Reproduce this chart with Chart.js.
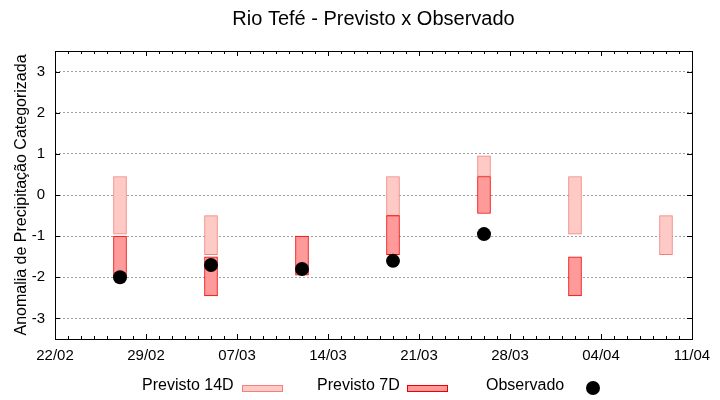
<!DOCTYPE html>
<html>
<head>
<meta charset="utf-8">
<style>
  html, body { margin: 0; padding: 0; background: #fff; }
  #wrap { width: 720px; height: 400px; }
</style>
</head>
<body>
<div id="wrap"><canvas id="grafico"></canvas></div>
<script src="https://cdn.jsdelivr.net/npm/chart.js"></script>
<script>
// datas semanais das previsões (2024)
const semanas = ['27/02', '05/03', '12/03', '19/03', '26/03', '02/04', '09/04'];
// faixas previstas [mínimo, máximo]
const previsto14 = [[-0.95, 0.45], [-1.45, -0.5], null, [-0.5, 0.45], [0.45, 0.95], [-0.95, 0.45], [-1.45, -0.5]];
const previsto7  = [[-1.95, -1.0], [-2.45, -1.5], [-1.95, -1.0], [-1.45, -0.5], [-0.45, 0.45], [-2.45, -1.5], null];
const observado  = [-2.0, -1.7, -1.8, -1.6, -0.95, null, null];
// rótulos dos eixos
const xRotulos = ['22/02', '29/02', '07/03', '14/03', '21/03', '28/03', '04/04', '11/04'];
const yRotulos = [-3, -2, -1, 0, 1, 2, 3];

// dias desde 22/02
const dia = s => {
  const [d, m] = s.split('/').map(Number);
  return (Date.UTC(2024, m - 1, d) - Date.UTC(2024, 1, 22)) / 864e5;
};
const xTicks = xRotulos.map(dia);
const xMax = xTicks[xTicks.length - 1];

const pontos = arr => semanas
  .map((s, i) => ({ x: dia(s), y: arr[i] }))
  .filter(p => p.y !== null);

// moldura e marcas internas, estilo gnuplot
const moldura = {
  id: 'moldura',
  afterDraw(chart) {
    const { ctx, chartArea: a, scales: { x, y } } = chart;
    ctx.save();
    ctx.strokeStyle = '#000';
    ctx.lineWidth = 1;
    ctx.beginPath();
    for (let d = 0; d <= xMax; d++) {
      const px = Math.round(x.getPixelForValue(d)) + 0.5;
      const len = xTicks.includes(d) ? 5 : 3;
      ctx.moveTo(px, a.bottom); ctx.lineTo(px, a.bottom - len);
      ctx.moveTo(px, a.top); ctx.lineTo(px, a.top + len);
    }
    yRotulos.forEach(v => {
      const py = Math.round(y.getPixelForValue(v)) + 0.5;
      ctx.moveTo(a.left, py); ctx.lineTo(a.left + 5, py);
      ctx.moveTo(a.right, py); ctx.lineTo(a.right - 5, py);
    });
    ctx.stroke();
    ctx.strokeRect(Math.round(a.left) + 0.5, Math.round(a.top) + 0.5,
      Math.round(a.right - a.left), Math.round(a.bottom - a.top));
    ctx.restore();
  }
};

// legenda: texto seguido da amostra
const legenda = {
  id: 'legenda',
  afterDraw(chart) {
    const { ctx } = chart;
    const ds = chart.data.datasets;
    const yc = 386;
    ctx.save();
    ctx.font = '16px "Liberation Sans", Arial, sans-serif';
    ctx.fillStyle = '#000';
    ctx.textBaseline = 'middle';
    ctx.fillText(ds[0].label, 142, yc);
    ctx.fillText(ds[1].label, 317, yc);
    ctx.fillText(ds[2].label, 486, yc);
    [[ds[0], 242], [ds[1], 407]].forEach(([d, x0]) => {
      ctx.fillStyle = d.backgroundColor;
      ctx.fillRect(x0, 385, 40, 6);
      ctx.strokeStyle = d.borderColor;
      ctx.lineWidth = 1;
      ctx.strokeRect(x0 + 0.5, 385.5, 40, 6);
    });
    ctx.fillStyle = ds[2].backgroundColor;
    ctx.beginPath();
    ctx.arc(593, 388, 7, 0, Math.PI * 2);
    ctx.fill();
    ctx.restore();
  }
};

Chart.defaults.font.family = '"Liberation Sans", Arial, sans-serif';
Chart.defaults.color = '#000';

new Chart(document.getElementById('grafico'), {
  type: 'bar',
  data: {
    datasets: [
      {
        label: 'Previsto 14D',
        data: pontos(previsto14),
        backgroundColor: '#fdcac6',
        borderColor: '#f4807a',
        borderWidth: 1,
        borderSkipped: false,
        barThickness: 13,
        grouped: false,
        order: 3
      },
      {
        label: 'Previsto 7D',
        data: pontos(previsto7),
        backgroundColor: '#ff9a9a',
        borderColor: '#ee0000',
        borderWidth: 1,
        borderSkipped: false,
        barThickness: 13,
        grouped: false,
        order: 2
      },
      {
        type: 'line',
        label: 'Observado',
        data: pontos(observado),
        showLine: false,
        backgroundColor: '#000',
        borderColor: '#000',
        pointRadius: 7,
        pointBorderWidth: 0,
        order: 1
      }
    ]
  },
  options: {
    responsive: true,
    maintainAspectRatio: false,
    animation: false,
    layout: { padding: { top: 0, left: 0, right: 28, bottom: 0 } },
    plugins: {
      legend: { display: false },
      tooltip: { enabled: false },
      title: {
        display: true,
        fullSize: false,
        text: 'Rio Tefé - Previsto x Observado',
        font: { size: 20, weight: 'normal' },
        color: '#000',
        padding: { top: 7, bottom: 20 }
      }
    },
    scales: {
      x: {
        type: 'linear',
        offset: false,
        min: 0,
        max: xMax,
        afterBuildTicks: s => { s.ticks = xTicks.map(v => ({ value: v })); },
        afterFit: s => { s.height = 61; },
        ticks: {
          font: { size: 15 },
          padding: 8,
          maxRotation: 0,
          callback: (v) => xRotulos[xTicks.indexOf(v)]
        },
        grid: { display: false, drawTicks: false, offset: false },
        border: { display: false }
      },
      y: {
        min: -3.5,
        max: 3.5,
        afterBuildTicks: s => { s.ticks = yRotulos.map(v => ({ value: v })); },
        afterFit: s => { s.width = 55; },
        ticks: { font: { size: 15 }, padding: 10 },
        grid: { color: '#a0a0a0', drawTicks: false },
        border: { display: false, dash: [2, 2] },
        title: {
          display: true,
          text: 'Anomalia de Precipitação Categorizada',
          font: { size: 16 },
          padding: { top: 12, bottom: 0 }
        }
      }
    }
  },
  plugins: [moldura, legenda]
});
</script>
</body>
</html>
